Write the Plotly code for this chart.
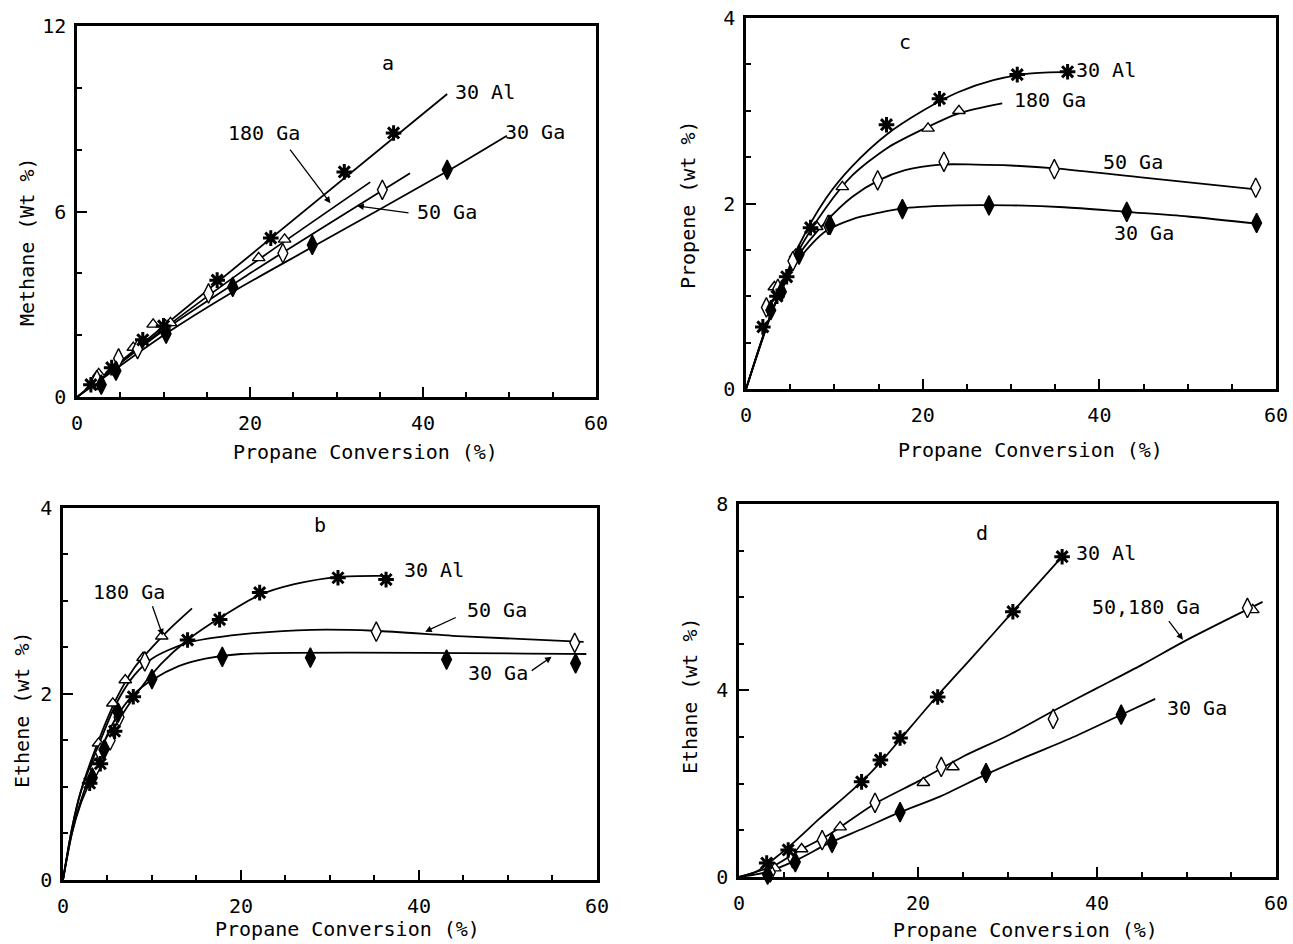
import plotly.graph_objects as go

FONT = "DejaVu Sans Mono"

# ---------------- Panel a : Methane ----------------
a_al_x = [1.6, 4.0, 7.6, 10.0, 16.2, 22.4, 30.9, 36.6]
a_al_y = [0.4, 0.95, 1.85, 2.3, 3.78, 5.14, 7.28, 8.54]
a_g180_x = [2.5, 6.5, 8.8, 10.8, 21.0, 24.0]
a_g180_y = [0.75, 1.6, 2.35, 2.4, 4.5, 5.1]
a_g50_x = [2.3, 4.8, 7.0, 10.2, 15.2, 23.8, 35.3]
a_g50_y = [0.55, 1.25, 1.55, 2.2, 3.35, 4.65, 6.7]
a_g30_x = [2.8, 4.5, 10.3, 18.0, 27.2, 42.8]
a_g30_y = [0.4, 0.85, 2.05, 3.56, 4.92, 7.35]
# fitted curves
a_al_cx = [0, 42.8]
a_al_cy = [0, 9.8]
a_g180_cx = [0, 10, 20, 33.9]
a_g180_cy = [0, 2.2, 4.25, 6.95]
a_g50_cx = [0, 10, 20, 38.5]
a_g50_cy = [0, 2.15, 4.0, 7.24]
a_g30_cx = [0, 10, 18, 27.2, 42.8, 49.7]
a_g30_cy = [0, 2.0, 3.4, 4.85, 7.3, 8.45]

# ---------------- Panel c : Propene ----------------
c_al_x = [1.9, 3.5, 4.6, 7.3, 15.9, 21.9, 30.7, 36.4]
c_al_y = [0.67, 1.0, 1.21, 1.74, 2.85, 3.13, 3.39, 3.42]
c_g180_x = [3.2, 5.6, 8.0, 10.9, 20.6, 24.1]
c_g180_y = [1.1, 1.45, 1.75, 2.18, 2.81, 3.0]
c_g50_x = [2.3, 3.6, 5.3, 9.3, 14.9, 22.4, 34.9, 57.7]
c_g50_y = [0.88, 1.08, 1.38, 1.77, 2.25, 2.45, 2.37, 2.17]
c_g30_x = [2.8, 4.0, 6.0, 9.5, 17.7, 27.5, 43.1, 57.8]
c_g30_y = [0.85, 1.05, 1.45, 1.77, 1.94, 1.98, 1.91, 1.79]
c_al_cx = [0, 3, 6, 9, 12, 16, 20, 24, 28, 32, 36.5]
c_al_cy = [0, 0.85, 1.55, 2.05, 2.4, 2.75, 3.0, 3.2, 3.33, 3.4, 3.42]
c_g180_cx = [0, 3, 6, 9, 12, 16, 20, 24, 29]
c_g180_cy = [0, 0.85, 1.5, 1.95, 2.3, 2.6, 2.8, 2.97, 3.08]
c_g50_cx = [0, 3, 6, 9, 12, 15, 18, 22, 26, 30, 35, 45, 58]
c_g50_cy = [0, 0.85, 1.45, 1.8, 2.07, 2.25, 2.36, 2.42, 2.42, 2.41, 2.38, 2.28, 2.15]
c_g30_cx = [0, 3, 6, 9, 12, 15, 18, 24, 30, 36, 43, 50, 58]
c_g30_cy = [0, 0.85, 1.4, 1.7, 1.83, 1.9, 1.95, 1.98, 1.98, 1.96, 1.91, 1.86, 1.78]

# ---------------- Panel b : Ethene ----------------
b_al_x = [3.0, 4.2, 5.8, 7.9, 14.0, 17.6, 22.1, 30.9, 36.3]
b_al_y = [1.04, 1.25, 1.6, 1.97, 2.58, 2.8, 3.09, 3.25, 3.23]
b_g180_x = [4.0, 5.6, 7.0, 9.0, 11.1]
b_g180_y = [1.47, 1.9, 2.15, 2.39, 2.62]
b_g50_x = [3.6, 4.2, 5.3, 6.3, 9.2, 35.2, 57.5]
b_g50_y = [1.2, 1.37, 1.5, 1.75, 2.35, 2.67, 2.55]
b_g30_x = [3.3, 4.6, 6.2, 10.0, 17.9, 27.8, 43.1, 57.6]
b_g30_y = [1.1, 1.4, 1.8, 2.16, 2.4, 2.39, 2.37, 2.33]
b_al_cx = [0, 1, 2, 3, 5, 8, 11, 14, 18, 22, 26, 31, 36.5]
b_al_cy = [0, 0.5, 0.82, 1.05, 1.5, 1.97, 2.32, 2.58, 2.84, 3.06, 3.18, 3.26, 3.27]
b_g180_cx = [0, 1, 2, 4, 6, 8, 10, 12, 14.5]
b_g180_cy = [0, 0.55, 0.95, 1.5, 1.95, 2.28, 2.5, 2.7, 2.92]
b_g50_cx = [0, 1, 2, 4, 6, 8, 10, 14, 20, 28, 35, 45, 58.5]
b_g50_cy = [0, 0.55, 0.95, 1.45, 1.9, 2.2, 2.38, 2.55, 2.64, 2.69, 2.68, 2.62, 2.56]
b_g30_cx = [0, 1, 2, 4, 6, 8, 10, 13, 16, 20, 58.8]
b_g30_cy = [0, 0.5, 0.85, 1.35, 1.75, 2.0, 2.15, 2.3, 2.38, 2.43, 2.43]

# ---------------- Panel d : Ethane ----------------
d_al_x = [3.1, 5.5, 13.7, 15.8, 18.0, 22.2, 30.6, 36.1]
d_al_y = [0.3, 0.58, 2.04, 2.51, 2.98, 3.86, 5.69, 6.87]
d_g50_x = [3.5, 6.0, 9.3, 15.2, 22.6, 35.1, 56.8]
d_g50_y = [0.1, 0.4, 0.79, 1.59, 2.36, 3.39, 5.77]
d_g180_x = [4.0, 7.0, 11.3, 20.6, 23.9, 57.4]
d_g180_y = [0.19, 0.6, 1.07, 2.02, 2.36, 5.73]
d_g30_x = [3.2, 6.3, 10.4, 18.0, 27.6, 42.7]
d_g30_y = [0.05, 0.32, 0.73, 1.39, 2.23, 3.48]
d_al_cx = [0, 2, 4, 6, 9, 12, 14, 16, 18, 22, 26, 30.6, 36.1]
d_al_cy = [0, 0.12, 0.4, 0.72, 1.25, 1.75, 2.1, 2.5, 2.95, 3.85, 4.7, 5.69, 6.87]
d_ga_cx = [0, 4, 7, 10, 15, 20, 25, 30, 35, 40, 45, 50, 58.5]
d_ga_cy = [0, 0.25, 0.6, 0.9, 1.55, 2.05, 2.58, 3.03, 3.55, 4.05, 4.55, 5.08, 5.9]
d_g30_cx = [0, 3, 6.3, 10, 14, 18, 22.5, 27.6, 32, 37, 42.7, 46.5]
d_g30_cy = [0, 0.1, 0.35, 0.72, 1.05, 1.39, 1.73, 2.2, 2.57, 2.97, 3.48, 3.82]

fig = go.Figure()

M_AL = dict(symbol="asterisk-open", size=13, color="black", line=dict(width=3, color="black"))
M_TRI = dict(symbol="triangle-up", size=11, color="white", line=dict(width=1.4, color="black"))
M_ODIA = dict(symbol="diamond-tall", size=14, color="white", line=dict(width=1.4, color="black"))
M_FDIA = dict(symbol="diamond-tall", size=14, color="black", line=dict(width=1.4, color="black"))


def curve(x, y, xa, ya, shape="spline"):
    fig.add_trace(go.Scatter(x=x, y=y, mode="lines", xaxis=xa, yaxis=ya,
                             line=dict(color="black", width=1.8, shape=shape, smoothing=0.8),
                             showlegend=False, hoverinfo="skip", cliponaxis=False))


def pts(x, y, xa, ya, m):
    fig.add_trace(go.Scatter(x=x, y=y, mode="markers", xaxis=xa, yaxis=ya, marker=m,
                             showlegend=False, cliponaxis=False))


# panel a -> x/y
for cx, cy in [(a_al_cx, a_al_cy), (a_g180_cx, a_g180_cy), (a_g50_cx, a_g50_cy), (a_g30_cx, a_g30_cy)]:
    curve(cx, cy, "x", "y")
pts(a_g180_x, a_g180_y, "x", "y", M_TRI)
pts(a_g50_x, a_g50_y, "x", "y", M_ODIA)
pts(a_g30_x, a_g30_y, "x", "y", M_FDIA)
pts(a_al_x, a_al_y, "x", "y", M_AL)

# panel c -> x2/y2
for cx, cy in [(c_al_cx, c_al_cy), (c_g180_cx, c_g180_cy), (c_g50_cx, c_g50_cy), (c_g30_cx, c_g30_cy)]:
    curve(cx, cy, "x2", "y2")
pts(c_g180_x, c_g180_y, "x2", "y2", M_TRI)
pts(c_g50_x, c_g50_y, "x2", "y2", M_ODIA)
pts(c_g30_x, c_g30_y, "x2", "y2", M_FDIA)
pts(c_al_x, c_al_y, "x2", "y2", M_AL)

# panel b -> x3/y3
for cx, cy in [(b_al_cx, b_al_cy), (b_g180_cx, b_g180_cy), (b_g50_cx, b_g50_cy), (b_g30_cx, b_g30_cy)]:
    curve(cx, cy, "x3", "y3")
pts(b_g180_x, b_g180_y, "x3", "y3", M_TRI)
pts(b_g50_x, b_g50_y, "x3", "y3", M_ODIA)
pts(b_g30_x, b_g30_y, "x3", "y3", M_FDIA)
pts(b_al_x, b_al_y, "x3", "y3", M_AL)

# panel d -> x4/y4
for cx, cy in [(d_al_cx, d_al_cy), (d_ga_cx, d_ga_cy), (d_g30_cx, d_g30_cy)]:
    curve(cx, cy, "x4", "y4")
pts(d_g180_x, d_g180_y, "x4", "y4", M_TRI)
pts(d_g50_x, d_g50_y, "x4", "y4", M_ODIA)
pts(d_g30_x, d_g30_y, "x4", "y4", M_FDIA)
pts(d_al_x, d_al_y, "x4", "y4", M_AL)

TICKFONT = dict(family=FONT, size=20, color="black")


def xax(domain, anchor):
    return dict(domain=domain, anchor=anchor, range=[0, 60], tick0=0, dtick=20,
                showline=True, linecolor="black", linewidth=2.5, mirror=True,
                ticks="inside", ticklen=10, tickwidth=2, tickcolor="black",
                showgrid=False, zeroline=False, tickfont=TICKFONT, ticklabelstandoff=6,
                minor=dict(ticks="inside", ticklen=5, tickwidth=1.5, dtick=5, tickcolor="black", showgrid=False),
                automargin=False, fixedrange=True)


def yax(domain, anchor, top, major, minor):
    return dict(domain=domain, anchor=anchor, range=[0, top], tick0=0, dtick=major,
                showline=True, linecolor="black", linewidth=2.5, mirror=True,
                ticks="inside", ticklen=10, tickwidth=2, tickcolor="black",
                showgrid=False, zeroline=False, tickfont=TICKFONT, ticklabelstandoff=4,
                minor=dict(ticks="inside", ticklen=5, tickwidth=1.5, dtick=minor, tickcolor="black", showgrid=False),
                automargin=False, fixedrange=True)


fig.update_layout(
    width=1293, height=944,
    margin=dict(l=0, r=0, t=0, b=0),
    paper_bgcolor="white", plot_bgcolor="white",
    font=dict(family=FONT, size=20, color="black"),
    xaxis=xax([0.0596, 0.4609], "y"),
    yaxis=yax([0.5794, 0.9725], "x", 12, 6, 2),
    xaxis2=xax([0.5770, 0.9869], "y2"),
    yaxis2=yax([0.5879, 0.9809], "x2", 4, 2, 0.5),
    xaxis3=xax([0.0487, 0.4617], "y3"),
    yaxis3=yax([0.0678, 0.4619], "x3", 4, 2, 0.5),
    xaxis4=xax([0.5715, 0.9869], "y4"),
    yaxis4=yax([0.0710, 0.4661], "x4", 8, 4, 1),
)

ann = []


def label(text, x, y, xr, yr):
    ann.append(dict(text=text, x=x, y=y, xref=xr, yref=yr, showarrow=False,
                    xanchor="center", yanchor="middle",
                    font=dict(family=FONT, size=20, color="black")))


def arrow(x, y, ax, ay, xr, yr):
    ann.append(dict(text="", x=x, y=y, ax=ax, ay=ay, xref=xr, yref=yr, axref=xr, ayref=yr,
                    showarrow=True, arrowhead=2, arrowsize=1, arrowwidth=1.3, arrowcolor="black",
                    standoff=0, startstandoff=0))


def ptitle(text, px, py, angle=0):
    ann.append(dict(text=text, x=px / 1293, y=1 - py / 944, xref="paper", yref="paper",
                    xanchor="center", yanchor="middle",
                    showarrow=False, textangle=angle,
                    font=dict(family=FONT, size=20, color="black")))


# panel a labels
label("a", 35.9, 10.8, "x", "y")
label("30 Al", 47.2, 9.87, "x", "y")
label("180 Ga", 21.6, 8.54, "x", "y")
label("30 Ga", 53.0, 8.57, "x", "y")
label("50 Ga", 42.8, 5.98, "x", "y")
arrow(29.3, 6.27, 24.5, 8.05, "x", "y")
arrow(32.4, 6.18, 38.5, 5.95, "x", "y")

# panel c labels
label("c", 18.0, 3.74, "x2", "y2")
label("30 Al", 40.7, 3.44, "x2", "y2")
label("180 Ga", 34.4, 3.12, "x2", "y2")
label("50 Ga", 43.8, 2.45, "x2", "y2")
label("30 Ga", 45.1, 1.68, "x2", "y2")

# panel b labels
label("b", 28.9, 3.82, "x3", "y3")
label("30 Al", 41.7, 3.33, "x3", "y3")
label("180 Ga", 7.4, 3.1, "x3", "y3")
label("50 Ga", 48.8, 2.9, "x3", "y3")
label("30 Ga", 48.9, 2.23, "x3", "y3")
arrow(11.2, 2.63, 10.0, 2.96, "x3", "y3")
arrow(40.7, 2.67, 44.3, 2.83, "x3", "y3")
arrow(54.9, 2.4, 52.5, 2.24, "x3", "y3")

# panel d labels
label("d", 27.2, 7.38, "x4", "y4")
label("30 Al", 41.0, 6.95, "x4", "y4")
label("50,180 Ga", 45.5, 5.8, "x4", "y4")
label("30 Ga", 51.2, 3.63, "x4", "y4")
arrow(49.6, 5.09, 47.9, 5.52, "x4", "y4")

# axis titles
ptitle("Propane Conversion (%)", 365, 452)
ptitle("Methane (Wt %)", 27, 242, -90)
ptitle("Propane Conversion (%)", 1030, 450)
ptitle("Propene (wt %)", 688, 205, -90)
ptitle("Propane Conversion (%)", 347, 929)
ptitle("Ethene (wt %)", 22, 710, -90)
ptitle("Propane Conversion (%)", 1025, 930)
ptitle("Ethane (wt %)", 690, 695, -90)

fig.update_layout(annotations=ann)
fig.write_html("out.html")
